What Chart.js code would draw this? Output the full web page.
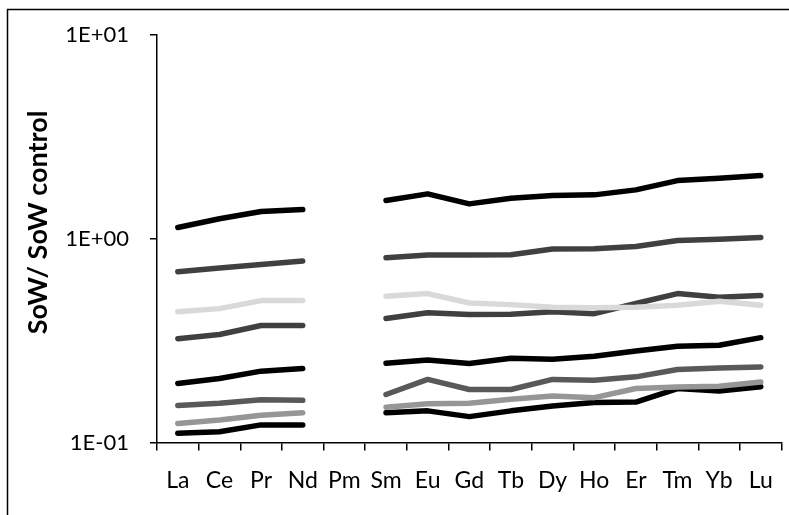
<!DOCTYPE html>
<html>
<head>
<meta charset="utf-8">
<script src="https://cdn.jsdelivr.net/npm/chart.js@4.4.0/dist/chart.umd.min.js"></script>
<style>
  html, body { margin: 0; padding: 0; background: #ffffff; }
  #wrap { width: 789px; height: 515px; position: relative; }
</style>
</head>
<body>
<div id="wrap"><canvas id="myChart"></canvas></div>
<script>
// rare earth elements on the x axis (Pm has no value)
const elements = ['La', 'Ce', 'Pr', 'Nd', 'Pm', 'Sm', 'Eu', 'Gd', 'Tb', 'Dy', 'Ho', 'Er', 'Tm', 'Yb', 'Lu'];

// series, top to bottom
const s1 = [1.136, 1.253, 1.360, 1.391, null, 1.540, 1.661, 1.483, 1.582, 1.629, 1.642, 1.737, 1.929, 1.982, 2.041];
const s2 = [0.689, 0.719, 0.748, 0.778, null, 0.807, 0.832, 0.832, 0.835, 0.890, 0.894, 0.917, 0.981, 0.995, 1.015];
const s3 = [0.438, 0.454, 0.497, 0.497, null, 0.522, 0.538, 0.484, 0.475, 0.461, 0.458, 0.461, 0.472, 0.493, 0.472];
const s4 = [0.323, 0.339, 0.375, 0.375, null, 0.406, 0.433, 0.425, 0.426, 0.438, 0.429, 0.481, 0.538, 0.516, 0.526];
const s5 = [0.195, 0.206, 0.224, 0.231, null, 0.245, 0.254, 0.244, 0.259, 0.256, 0.265, 0.281, 0.297, 0.300, 0.327];
const s6 = [0.152, 0.156, 0.162, 0.161, null, 0.172, 0.204, 0.182, 0.182, 0.204, 0.202, 0.210, 0.228, 0.232, 0.235];
const s7 = [0.124, 0.129, 0.136, 0.140, null, 0.149, 0.155, 0.156, 0.163, 0.169, 0.166, 0.184, 0.187, 0.189, 0.198];
const s8 = [0.111, 0.113, 0.122, 0.122, null, 0.140, 0.143, 0.134, 0.143, 0.151, 0.157, 0.158, 0.184, 0.179, 0.188];

const yTicks = [0.1, 1, 10];
const yTickLabels = ['1E-01', '1E+00', '1E+01'];

const lineColors = ['#000000', '#404040', '#d9d9d9', '#404040', '#000000', '#595959', '#969696', '#000000'];

function makeSet(data, color) {
    return {
        data: data,
        borderColor: color,
        backgroundColor: color,
        borderWidth: 5.5,
        borderCapStyle: 'round',
        borderJoinStyle: 'round',
        tension: 0,
        fill: false,
        spanGaps: false,
        pointRadius: 0
    };
}

// outer frame like the spreadsheet chart border
const framePlugin = {
    id: 'frame',
    afterDraw(chart) {
        const c = chart.ctx;
        c.save();
        c.strokeStyle = '#000000';
        c.lineWidth = 1.5;
        c.beginPath();
        c.moveTo(7.5, 520);
        c.lineTo(7.5, 9.5);
        c.lineTo(795, 9.5);
        c.stroke();
        c.restore();
    }
};

const ctx = document.getElementById('myChart').getContext('2d');
const chart = new Chart(ctx, {
    type: 'line',
    data: {
        labels: elements,
        datasets: [s1, s2, s3, s4, s5, s6, s7, s8].map((d, i) => makeSet(d, lineColors[i]))
    },
    options: {
        responsive: true,
        maintainAspectRatio: false,
        animation: false,
        layout: {
            padding: { left: 0, right: 7, top: 35, bottom: 0 }
        },
        plugins: {
            legend: { display: false },
            tooltip: { enabled: false }
        },
        scales: {
            x: {
                type: 'category',
                offset: true,
                grid: {
                    offset: true,
                    drawOnChartArea: false,
                    drawTicks: true,
                    tickLength: 8,
                    color: '#000000',
                    lineWidth: 1.5
                },
                border: { display: true, color: '#000000', width: 1.5 },
                ticks: {
                    color: '#000000',
                    autoSkip: false,
                    maxRotation: 0,
                    padding: 16,
                    font: { family: 'Lato', size: 23 }
                },
                afterFit: function (scale) {
                    scale.height = 72.5;
                }
            },
            y: {
                type: 'logarithmic',
                min: 0.1,
                max: 10,
                afterBuildTicks: function (scale) {
                    scale.ticks = yTicks.map(v => ({ value: v }));
                },
                grid: {
                    drawOnChartArea: false,
                    drawTicks: true,
                    tickLength: 7,
                    color: '#000000',
                    lineWidth: 1.5
                },
                border: { display: true, color: '#000000', width: 1.5 },
                ticks: {
                    color: '#000000',
                    padding: 21,
                    font: { family: 'Lato', size: 22 },
                    callback: function (value) {
                        const i = yTicks.indexOf(value);
                        return i >= 0 ? yTickLabels[i] : '';
                    }
                },
                title: {
                    display: true,
                    // leading spaces nudge the title upward like the original
                    text: '     SoW/ SoW control',
                    color: '#000000',
                    font: { family: 'Lato', size: 27, weight: 'bold' },
                    padding: { top: 22, bottom: 0 }
                },
                afterFit: function (scale) {
                    scale.width = 157;
                }
            }
        }
    },
    plugins: [framePlugin]
});
</script>
</body>
</html>
